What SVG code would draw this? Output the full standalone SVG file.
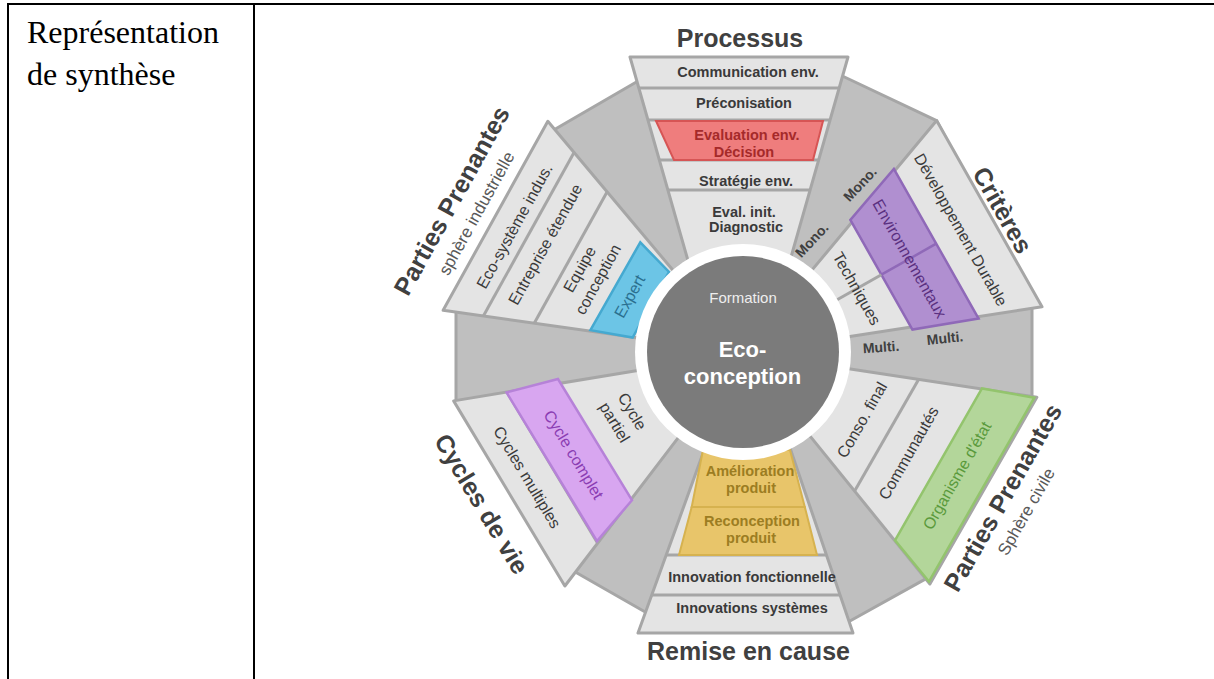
<svg xmlns="http://www.w3.org/2000/svg" width="1214" height="679" viewBox="0 0 1214 679">
<style>
.tbl{stroke:#000;stroke-width:2;fill:none}
.cell{font-family:"Liberation Serif","Times New Roman",serif;font-size:32px;fill:#000}
.dark{fill:#bfbfbf;stroke:#a6a6a6;stroke-width:3;stroke-linejoin:round}
.light{fill:#e4e4e4;stroke:#a6a6a6;stroke-width:3;stroke-linejoin:round}
.sep{stroke:#a6a6a6;stroke-width:3}
.title{font-family:"Liberation Sans",Arial,sans-serif;font-weight:bold;font-size:25px;fill:#404040;text-anchor:middle}
.sub{font-family:"Liberation Sans",Arial,sans-serif;font-size:17px;fill:#595959;text-anchor:middle}
.band{font-family:"Liberation Sans",Arial,sans-serif;font-weight:bold;font-size:14.5px;fill:#3a3a3a;text-anchor:middle}
.lbl{font-family:"Liberation Sans",Arial,sans-serif;font-size:16px;fill:#3a3a3a;text-anchor:middle}
.mm{font-family:"Liberation Sans",Arial,sans-serif;font-weight:bold;font-size:14px;fill:#404040;text-anchor:middle}
</style>
<g id="table">
<line class="tbl" x1="7" y1="4" x2="1214" y2="4"/>
<line class="tbl" x1="8" y1="3" x2="8" y2="679"/>
<line class="tbl" x1="254" y1="3" x2="254" y2="679"/>
<text class="cell" x="27" y="43">Représentation</text>
<text class="cell" x="27" y="85">de synthèse</text>
</g>
<g id="background">
<polygon class="dark" points="645,77 836,73 936.6,120.6 1032,300 1032,403 932,575.4 845,623.7 650,614.7 570,569 456,403 456,305 552.4,130.8"/>
</g>
<g id="processus">
<polygon class="light" points="630,57 848,57 789.6,262 688.4,262"/>
<line class="sep" x1="638.8" y1="88" x2="839.2" y2="88"/>
<line class="sep" x1="648" y1="120" x2="830" y2="120"/>
<line class="sep" x1="659.4" y1="160" x2="818.6" y2="160"/>
<line class="sep" x1="667.9" y1="190" x2="810.1" y2="190"/>
<polygon points="656,121 823,121 813,160 674,160" fill="#ef7d7d" stroke="#d65555" stroke-width="2"/>
<text class="band" x="748" y="77">Communication env.</text>
<text class="band" x="744" y="108">Préconisation</text>
<text class="band" x="747" y="140" style="fill:#a52a2a">Evaluation env.</text>
<text class="band" x="744" y="156.5" style="fill:#a52a2a">Décision</text>
<text class="band" x="746" y="186">Stratégie env.</text>
<text class="band" x="744" y="217">Eval. init.</text>
<text class="band" x="746" y="232">Diagnostic</text>
<text class="title" x="740" y="47">Processus</text>
</g>
<g id="remise">
<polygon class="light" points="638,633 853,633 789,445 706,445"/>
<line class="sep" x1="651.8" y1="595" x2="840" y2="595"/>
<line class="sep" x1="666.4" y1="555" x2="826.4" y2="555"/>
<polygon points="703,450 790,450 804.8,507 691.7,507" fill="#e8c56a" stroke="#d6b24f" stroke-width="2"/>
<polygon points="691.7,507 804.8,507 817,555 679,555" fill="#e8c56a" stroke="#d6b24f" stroke-width="2"/>
<text class="band" x="750" y="476" style="fill:#9c7d22">Amélioration</text>
<text class="band" x="751" y="492.5" style="fill:#9c7d22">produit</text>
<text class="band" x="752" y="526" style="fill:#9c7d22">Reconception</text>
<text class="band" x="751" y="542.5" style="fill:#9c7d22">produit</text>
<text class="band" x="752" y="582">Innovation fonctionnelle</text>
<text class="band" x="752" y="613">Innovations systèmes</text>
<text class="title" x="748.5" y="660">Remise en cause</text>
</g>
<g id="criteres" transform="translate(743,353) rotate(60.5)">
<polygon class="light" points="-107,-283 107,-283 36,-95 -36,-95"/>
<polygon points="-86,-222 86,-222 63,-159 -63,-159" fill="#b08fd0" stroke="#8f69b8" stroke-width="2.5"/>
<line x1="0" y1="-222" x2="0" y2="-159" stroke="#8f69b8" stroke-width="2.5"/>
<line class="sep" x1="0" y1="-159" x2="0" y2="-100"/>
<text class="lbl" x="0" y="-244.7">Développement Durable</text>
<text class="lbl" x="0" y="-186" style="fill:#5a2f80">Environnementaux</text>
<text class="lbl" x="0" y="-125.3">Techniques</text>
<text class="title" x="3.5" y="-287.6">Critères</text>
</g>
<g id="industrielle" transform="translate(743,353) rotate(-61)">
<polygon class="light" points="-108,-283 108,-283 36,-95 -36,-95"/>
<line class="sep" x1="-93.5" y1="-245" x2="93.5" y2="-245"/>
<line class="sep" x1="-75.2" y1="-197" x2="75.2" y2="-197"/>
<polygon points="-54,-144.5 47,-143.5 35,-104 -40,-104" fill="#6cc5e6" stroke="#45a9d0" stroke-width="2.5"/>
<text class="lbl" x="0" y="-255.8">Eco-système indus.</text>
<text class="lbl" x="-1" y="-220">Entreprise étendue</text>
<text class="lbl" x="-6" y="-178">Equipe</text>
<text class="lbl" x="-6" y="-157">conception</text>
<text class="lbl" x="-5.5" y="-121" style="fill:#2a6f8f">Expert</text>
<text class="title" x="-8" y="-320">Parties Prenantes</text>
<text class="sub" x="-7" y="-295">sphère industrielle</text>
</g>
<g id="civile" transform="translate(743,353) rotate(-60.2)">
<polygon class="light" points="-107.6,277 107.6,277 37,95 -37,95"/>
<line class="sep" x1="-64.3" y1="165.5" x2="64.3" y2="165.5"/>
<polygon points="-87,225 88,225 106,275 -106,275" fill="#b3d69a" stroke="#93c46d" stroke-width="2.5"/>
<text class="lbl" x="0" y="252.2" style="fill:#5a9a3c">Organisme d'état</text>
<text class="lbl" x="-4.5" y="199">Communautés</text>
<text class="lbl" x="1" y="142">Conso. final</text>
<text class="title" x="3.6" y="306">Parties Prenantes</text>
<text class="sub" x="3" y="330.4">Sphère civile</text>
</g>
<g id="cycles" transform="translate(743,353) rotate(59)">
<polygon class="light" points="-108,272.7 108,272.7 37.6,95 -37.6,95"/>
<line class="sep" x1="-88.1" y1="222.5" x2="88.1" y2="222.5"/>
<polygon points="-88,223 86,222 69,171 -73,172" fill="#d8a6f0" stroke="#b682d8" stroke-width="2.5"/>
<text class="lbl" x="-4.7" y="254.5">Cycles multiples</text>
<text class="lbl" x="0" y="203" style="fill:#8b3db3">Cycle complet</text>
<text class="lbl" x="-7" y="130.6">Cycle</text>
<text class="lbl" x="-6.7" y="151.2">partiel</text>
<text class="title" x="-5.3" y="310.4">Cycles de vie</text>
</g>
<g id="mono-multi">
<text class="mm" transform="translate(811.7,240) rotate(-47)" y="5">Mono.</text>
<text class="mm" transform="translate(860,184) rotate(-47)" y="5">Mono.</text>
<text class="mm" transform="translate(881,347) rotate(-4)" y="5">Multi.</text>
<text class="mm" transform="translate(945,338) rotate(-6)" y="5">Multi.</text>
</g>
<g id="centre">
<circle cx="743" cy="352" r="108" fill="#ffffff"/>
<circle cx="743" cy="352" r="96" fill="#7b7b7b"/>
<text x="743" y="303" font-family="Liberation Sans, Arial, sans-serif" font-size="15" fill="#eeeeee" text-anchor="middle">Formation</text>
<text x="742.5" y="357" font-family="Liberation Sans, Arial, sans-serif" font-size="22" font-weight="bold" fill="#ffffff" text-anchor="middle">Eco-</text>
<text x="742.5" y="383.5" font-family="Liberation Sans, Arial, sans-serif" font-size="22" font-weight="bold" fill="#ffffff" text-anchor="middle">conception</text>
</g>
<g id="connectors"/>
</svg>
